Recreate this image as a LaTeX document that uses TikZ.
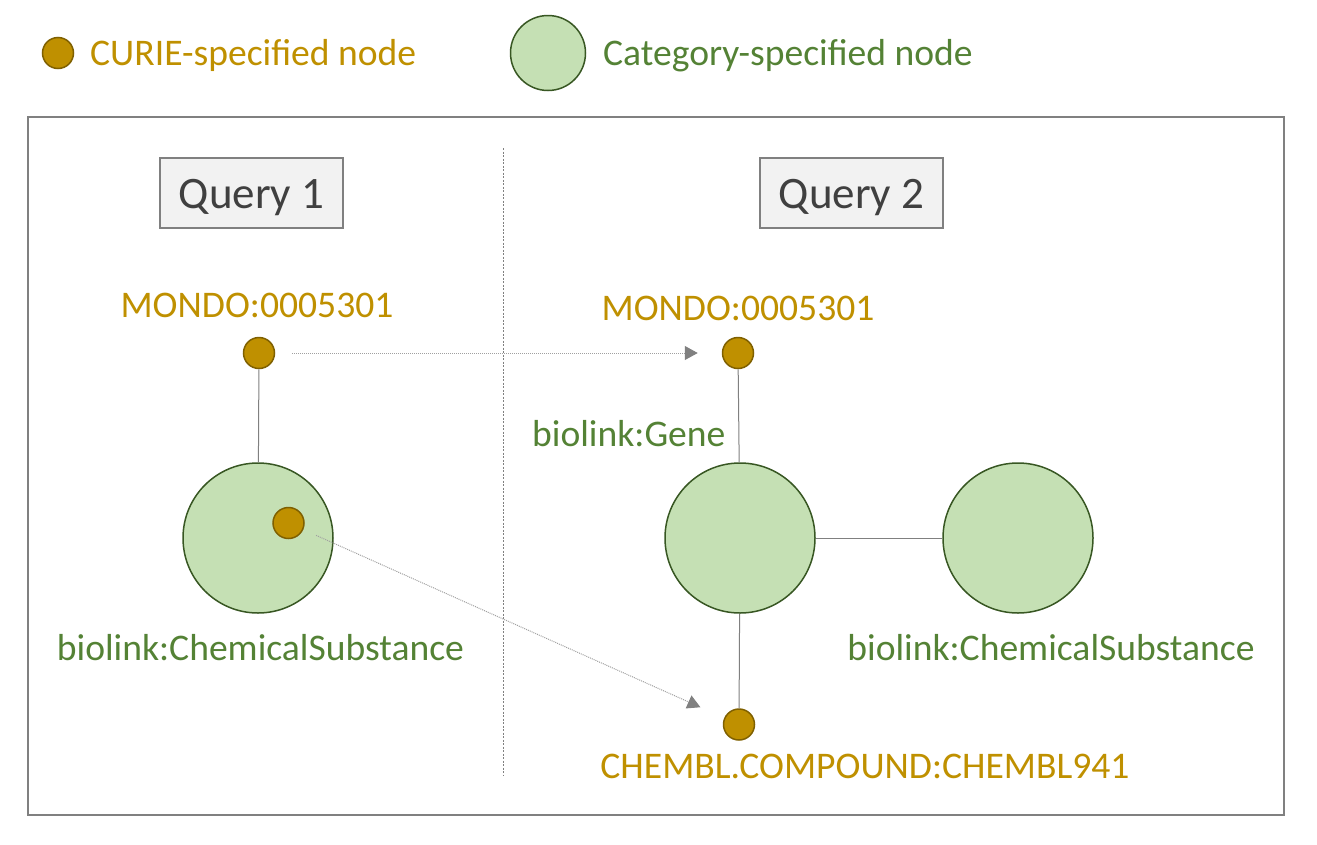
\documentclass[tikz,border=0pt]{standalone}
\usepackage{fontspec}
\setmainfont{Carlito}
\usetikzlibrary{arrows.meta}
\definecolor{gold}{HTML}{BF9000}
\definecolor{golddark}{HTML}{7F6000}
\definecolor{lgreen}{HTML}{C5E0B4}
\definecolor{dgreen}{HTML}{385723}
\definecolor{tgreen}{HTML}{548235}
\definecolor{linegray}{HTML}{808080}
\definecolor{arrgray}{HTML}{A0A0A0}
\definecolor{qfill}{HTML}{F2F2F2}
\definecolor{qtext}{HTML}{404040}
\begin{document}
\begin{tikzpicture}[x=1pt,y=-1pt,
  curie/.style={circle,fill=gold,draw=golddark,line width=1.5pt,minimum size=31pt,inner sep=0pt},
  cat/.style={circle,fill=lgreen,draw=dgreen,line width=1.5pt,minimum size=150pt,inner sep=0pt},
  bigcat/.style={circle,fill=lgreen,draw=dgreen,line width=1.5pt,minimum size=75pt,inner sep=0pt},
  lbl/.style={inner sep=0pt,anchor=base,font=\fontsize{37.6}{42}\selectfont},
  goldlbl/.style={lbl,text=gold},
  greenlbl/.style={lbl,text=tgreen},
  querybox/.style={draw=linegray,fill=qfill,line width=1.5pt,minimum width=183pt,minimum height=70pt,inner sep=0pt,text height=30pt,text depth=0pt,text=qtext,font=\fontsize{45}{50}\selectfont},
  edge/.style={draw=linegray,line width=1pt},
  maparrow/.style={draw=arrgray,densely dotted,line width=1pt,-{Triangle[length=13pt,width=14pt,fill=linegray,color=linegray]}},
]
\useasboundingbox (0,0) rectangle (1317,844);

% legend
\node[curie] (legc) at (58,53) {};
\node[goldlbl,anchor=base west] (legct) at (90,65) {CURIE-specified node};
\node[bigcat] (legg) at (548,53) {};
\node[greenlbl,anchor=base west] (leggt) at (603,65) {Category-specified node};

% frame
\node[draw=linegray,line width=2pt,minimum width=1256pt,minimum height=698pt,inner sep=0pt] (frame) at (656,466) {};
\coordinate (divtop) at (503,148);
\coordinate (divbot) at (503,775);
\draw[linegray,line width=0.75pt,dash pattern=on 2pt off 1.5pt] (divtop) -- (divbot);

% query boxes
\node[querybox] (q1) at (251.5,193) {Query 1};
\node[querybox] (q2) at (851.5,193) {Query 2};

% query 1
\node[curie] (m1) at (259,353) {};
\node[cat] (c1) at (258,538) {};
\node[curie] (s1) at (288.5,523) {};
\node[goldlbl] (m1l) at (257,317) {MONDO:0005301};
\node[greenlbl] (c1l) at (260.5,660) {biolink:ChemicalSubstance};
\draw[edge] (m1) -- (c1);

% query 2
\node[curie] (m2) at (738,353) {};
\node[cat] (c2) at (740,538) {};
\node[cat] (c3) at (1018,538) {};
\node[curie] (ch) at (739,724.5) {};
\node[goldlbl] (m2l) at (738,320) {MONDO:0005301};
\node[greenlbl,anchor=base west] (c2l) at (532,446) {biolink:Gene};
\node[greenlbl] (c3l) at (1051,660) {biolink:ChemicalSubstance};
\node[goldlbl] (chl) at (865,778) {CHEMBL.COMPOUND:CHEMBL941};
\draw[edge] (m2) -- (c2);
\draw[edge] (c2) -- (c3);
\draw[edge] (c2) -- (ch);

% mapping arrows
\draw[maparrow,shorten <=17pt,shorten >=24pt] (m1) -- (m2);
\draw[maparrow,shorten <=14pt,shorten >=26pt] (s1) -- (ch);
\end{tikzpicture}
\end{document}
